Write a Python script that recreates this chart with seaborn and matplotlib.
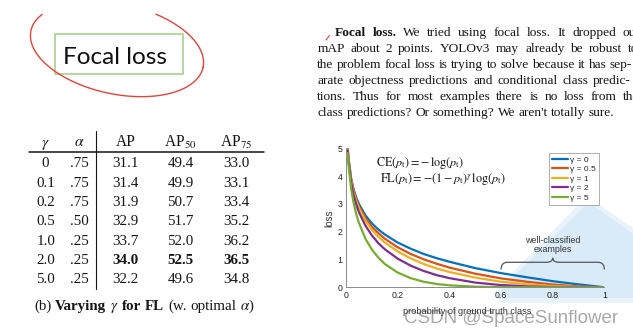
import numpy as np
import pandas as pd
import matplotlib
matplotlib.use("Agg")
import matplotlib.pyplot as plt
import seaborn as sns
from matplotlib import font_manager as fm
from matplotlib.patches import Rectangle, Polygon, PathPatch
from matplotlib.path import Path

# ---------------- data ----------------
p_t = [0.0067, 0.01, 0.02, 0.03, 0.04, 0.05, 0.075, 0.1, 0.125, 0.15, 0.2, 0.25,
       0.3, 0.35, 0.4, 0.5, 0.6, 0.7, 0.8, 0.9, 1.0]
loss_gamma_0 = [5.00, 4.61, 3.91, 3.51, 3.22, 3.00, 2.59, 2.30, 2.08, 1.90, 1.61, 1.39,
                1.20, 1.05, 0.92, 0.69, 0.51, 0.36, 0.22, 0.105, 0.0]
loss_gamma_05 = [4.98, 4.59, 3.87, 3.46, 3.15, 2.92, 2.49, 2.18, 1.95, 1.75, 1.44, 1.20,
                 1.01, 0.85, 0.71, 0.49, 0.32, 0.20, 0.10, 0.033, 0.0]
loss_gamma_1 = [4.97, 4.56, 3.83, 3.40, 3.09, 2.85, 2.40, 2.07, 1.82, 1.61, 1.29, 1.04,
                0.84, 0.68, 0.55, 0.35, 0.20, 0.11, 0.045, 0.011, 0.0]
loss_gamma_2 = [4.93, 4.51, 3.76, 3.30, 2.97, 2.70, 2.22, 1.87, 1.59, 1.37, 1.03, 0.78,
                0.59, 0.44, 0.33, 0.17, 0.08, 0.032, 0.009, 0.001, 0.0]
loss_gamma_5 = [4.83, 4.38, 3.54, 3.01, 2.62, 2.32, 1.75, 1.36, 1.07, 0.84, 0.53, 0.33,
                0.20, 0.12, 0.071, 0.022, 0.005, 0.001, 0.0, 0.0, 0.0]
gamma_labels = ["γ = 0", "γ = 0.5", "γ = 1", "γ = 2", "γ = 5"]
line_colors = ["#0072BD", "#D95319", "#EDB120", "#7E2F8E", "#77AC30"]

x_ticks = [0, 0.2, 0.4, 0.6, 0.8, 1.0]
x_tick_labels = ["0", "0.2", "0.4", "0.6", "0.8", "1"]
y_ticks = [0, 1, 2, 3, 4, 5]
y_tick_labels = ["0", "1", "2", "3", "4", "5"]

table_gamma = ["0", "0.1", "0.2", "0.5", "1.0", "2.0", "5.0"]
table_alpha = [".75", ".75", ".75", ".50", ".25", ".25", ".25"]
table_ap = ["31.1", "31.4", "31.9", "32.9", "33.7", "34.0", "32.2"]
table_ap50 = ["49.4", "49.9", "50.7", "51.7", "52.0", "52.5", "49.6"]
table_ap75 = ["33.0", "33.1", "33.4", "35.2", "36.2", "36.5", "34.8"]
table_header = [r"$\gamma$", r"$\alpha$", "AP", r"AP$_{50}$", r"AP$_{75}$"]
best_row = 5

paragraph_lines = [
    "Focal loss.  We tried using focal loss.  It dropped our",
    "mAP about 2 points.  YOLOv3 may already be robust to",
    "the problem focal loss is trying to solve because it has sep-",
    "arate objectness predictions and conditional class predic-",
    "tions.  Thus for most examples there is no loss from the",
    "class predictions? Or something? We aren't totally sure.",
]
caption_words = [("(b)", "normal"), ("Varying", "bold"), (r"$\gamma$", "normal"),
                 ("for", "bold"), ("FL", "bold"), ("(w.", "normal"), ("optimal", "normal"),
                 (r"$\alpha$)", "normal")]

# ---------------- style ----------------
sns.set_style("white")
plt.rcParams["font.family"] = ["Liberation Sans", "DejaVu Sans"]
plt.rcParams["mathtext.fontset"] = "stix"
SERIF = "Liberation Serif"
INK = "#151515"

W, H = 633, 336
DPI = 100
fig = plt.figure(figsize=(W / DPI, H / DPI), dpi=DPI)
fig.patch.set_facecolor("white")
bg = fig.add_axes([0, 0, 1, 1])
bg.set_xlim(0, W)
bg.set_ylim(H, 0)
bg.axis("off")
R = fig.canvas.get_renderer()


def tw(s, **kw):
    t = bg.text(0, 0, s, **kw)
    w = t.get_window_extent(renderer=R).width
    t.remove()
    return w


def snapped_baseline(word, size, weight, family, row):
    """Baseline y (top-down px) so that Agg puts the glyph baseline on pixel row `row`."""
    if "$" in word:
        return row
    try:
        from matplotlib.backends.backend_agg import get_hinting_flag
        prop = fm.FontProperties(family=family, size=size, weight=weight)
        font = fm.get_font(fm.fontManager._find_fonts_by_props(prop))
        font.clear()
        font.set_size(prop.get_size_in_points(), DPI)
        font.set_text(word, 0, flags=get_hinting_flag())
        _, h = font.get_width_height()
        d = font.get_descent()
        return row + int(h // 64) - int(np.floor((h - d) / 64.0)) - d / 64.0
    except Exception:
        return row


def place_words(words, x, y, size, justify_to=None, family=SERIF, color=INK):
    """words: list of (text, weight); one text object per word."""
    widths = [tw(w, fontsize=size, fontweight=wt, family=family) for w, wt in words]
    space = tw("a a", fontsize=size, family=family) - tw("aa", fontsize=size, family=family)
    if justify_to is not None and len(words) > 1:
        space = (justify_to - x - sum(widths)) / (len(words) - 1)
    row = int(round(y))
    ref = snapped_baseline("x", size, "normal", family, row)
    cx = x
    for (w, wt), wd in zip(words, widths):
        yy = snapped_baseline(w, size, wt, family, row) if "$" not in w else ref
        bg.text(cx, yy, w, fontsize=size, fontweight=wt, family=family, color=color,
                ha="left", va="baseline")
        cx += wd + space
    return cx


# ---------------- light blue spotlight shape ----------------
bg.add_patch(Polygon([(580, 203), (595, 202), (633, 228), (633, 303), (500, 303), (494, 292)],
                     closed=True, facecolor="#e9f3fb", edgecolor="none", zorder=0))
bg.add_patch(Polygon([(585, 206), (593, 205), (633, 234), (633, 298), (505, 298), (501, 289)],
                     closed=True, facecolor="#d9eaf8", edgecolor="none", zorder=0))

# ---------------- title box with red hand-drawn ellipse ----------------
bg.add_patch(Rectangle((55, 33.5), 127.5, 40, fill=False, edgecolor="#a9d18e", lw=1.2))
TFONT = "Lato"
fs_title = 20 * 104 / tw("Focal loss", fontsize=20, family=TFONT)
bg.text(63, 63.5, "Focal loss", fontsize=fs_title, family=TFONT,
        color="#111111", ha="left", va="baseline")
t = np.linspace(0, 2 * np.pi, 400)
th = np.deg2rad(12)
ex = 117 + 88 * np.cos(t) * np.cos(th) - 45 * np.sin(t) * np.sin(th)
ey = 49 + 88 * np.cos(t) * np.sin(th) + 45 * np.sin(t) * np.cos(th)
ey = np.where(ey < 14, np.nan, ey)
bg.plot(ex, ey, color="#e0453c", lw=1.0)

# ---------------- table ----------------
col_x = [45.6, 79, 125.5, 180.5, 236]
header_base = 146.5
row_base = [167.3 + 19.33 * i for i in range(7)]
fs_tab = 10.8
for cx, h in zip(col_x, table_header):
    bg.text(cx, header_base, h, fontsize=fs_tab + 0.4, family=SERIF, color=INK,
            ha="center", va="baseline")
cols = [table_gamma, table_alpha, table_ap, table_ap50, table_ap75]
for ci, (cx, col) in enumerate(zip(col_x, cols)):
    for ri, val in enumerate(col):
        bold = (ri == best_row and ci >= 2)
        wt = "bold" if bold else "normal"
        yy = snapped_baseline(val, fs_tab, wt, SERIF, int(round(row_base[ri])))
        bg.text(cx, yy, val, fontsize=fs_tab, family=SERIF, color=INK,
                fontweight=wt, ha="center", va="baseline")
bg.plot([29, 264], [152.3, 152.3], color=INK, lw=1.1)
bg.plot([96, 96], [131, 289], color=INK, lw=0.8)

# caption
ws = sum(tw(w, fontsize=11, fontweight=wt, family=SERIF) for w, wt in caption_words)
sp = tw("a a", fontsize=11, family=SERIF) - tw("aa", fontsize=11, family=SERIF)
fs_cap = 11 * 221 / (ws + sp * (len(caption_words) - 1))
place_words(caption_words, 34, 309.5, fs_cap)

# ---------------- paragraph ----------------
fs_par = 10 * 298 / tw(paragraph_lines[-1], fontsize=10, family=SERIF)
par_base = [36.5 + 16 * i for i in range(6)]
right_edges = [640, 638, 632, 631, 639, None]
for i, line in enumerate(paragraph_lines):
    words = line.split()
    ww = [(w, "bold" if (i == 0 and j < 2) else "normal") for j, w in enumerate(words)]
    x0 = 335 if i == 0 else 317.3
    place_words(ww, x0, par_base[i], fs_par, justify_to=right_edges[i])
bg.plot([326, 329.5], [40, 35.5], color="#e0453c", lw=0.8)

# ---------------- focal loss chart ----------------
px0, px1, py0, py1 = 346, 604.4, 287.3, 148.3
ax = fig.add_axes([px0 / W, 1 - py0 / H, (px1 - px0) / W, (py0 - py1) / H])
ax.patch.set_alpha(0)

series = [loss_gamma_0, loss_gamma_05, loss_gamma_1, loss_gamma_2, loss_gamma_5]
df = pd.DataFrame({
    "p": np.concatenate([p_t] * len(series)),
    "loss": np.concatenate(series),
    "gamma": np.repeat(gamma_labels, len(p_t)),
})
sns.lineplot(data=df, x="p", y="loss", hue="gamma", hue_order=gamma_labels,
             palette=line_colors, linewidth=1.6, errorbar=None, ax=ax)
ax.set_xlim(0, 1)
ax.set_ylim(0, 5)
ax.set_xticks(x_ticks)
ax.set_xticklabels(x_tick_labels)
ax.set_yticks(y_ticks)
ax.set_yticklabels(y_tick_labels)
for s in ["top", "right"]:
    ax.spines[s].set_visible(False)
for s in ["left", "bottom"]:
    ax.spines[s].set_color("#8a8a8a")
    ax.spines[s].set_linewidth(0.7)
ax.tick_params(direction="in", length=2.5, width=0.6, color="#8a8a8a", labelsize=6.3,
               labelcolor="#222222", pad=2.5)
ax.set_xlabel("probability of ground truth class", fontsize=6.6, color="#333333")
ax.xaxis.set_label_coords(0.47, (py0 - 306.5) / (py0 - py1))
ax.set_ylabel("loss", fontsize=7, color="#333333")
ax.yaxis.set_label_coords(-(px0 - 334) / (px1 - px0), 0.5)
ax.grid(False)

sns.move_legend(ax, "upper right", bbox_to_anchor=(0.981, 0.968), title=None,
                frameon=True, fontsize=6.0, handlelength=1.9, handletextpad=0.3,
                labelspacing=0.2, borderpad=0.4, borderaxespad=0, fancybox=False,
                edgecolor="#a0a0a0", framealpha=1)
leg = ax.get_legend()
leg.get_frame().set_linewidth(0.6)

# equations
ax.text(0.116, 0.893, r"$\mathrm{CE}(p_\mathrm{t}) = -\,\log(p_\mathrm{t})$",
        transform=ax.transAxes, fontsize=8.7, color=INK, ha="left", va="center")
ax.text(0.13, 0.78, r"$\mathrm{FL}(p_\mathrm{t}) = -(1-p_\mathrm{t})^{\gamma}\,\log(p_\mathrm{t})$",
        transform=ax.transAxes, fontsize=8.7, color=INK, ha="left", va="center")

# brace over well-classified examples
yb, yt, ytip = 0.64, 0.90, 1.06
verts = [(0.6, yb), (0.6, yt), (0.625, yt), (0.775, yt), (0.8, yt), (0.8, ytip),
         (0.8, yt), (0.825, yt), (0.975, yt), (1.0, yt), (1.0, yb)]
codes = [Path.MOVETO, Path.CURVE3, Path.CURVE3, Path.LINETO, Path.CURVE3, Path.CURVE3,
         Path.CURVE3, Path.CURVE3, Path.LINETO, Path.CURVE3, Path.CURVE3]
ax.add_patch(PathPatch(Path(verts, codes), fill=False, edgecolor="#555555", lw=0.9,
                       clip_on=False))
ax.text(0.8, 1.67, "well-classified", fontsize=6.4, color="#333333", ha="center", va="center")
ax.text(0.8, 1.35, "examples", fontsize=6.4, color="#333333", ha="center", va="center")

# watermark
fs_wm = 12 * 214 / tw("CSDN @SpaceSunflower", fontsize=12, family="Liberation Sans")
bg.text(404, 323, "CSDN @SpaceSunflower", fontsize=fs_wm, family="Liberation Sans",
        color="#9a9a9a", alpha=0.85, ha="left", va="baseline", zorder=10)
bg.set_zorder(0)

fig.savefig("out.png", dpi=DPI, facecolor="white")
